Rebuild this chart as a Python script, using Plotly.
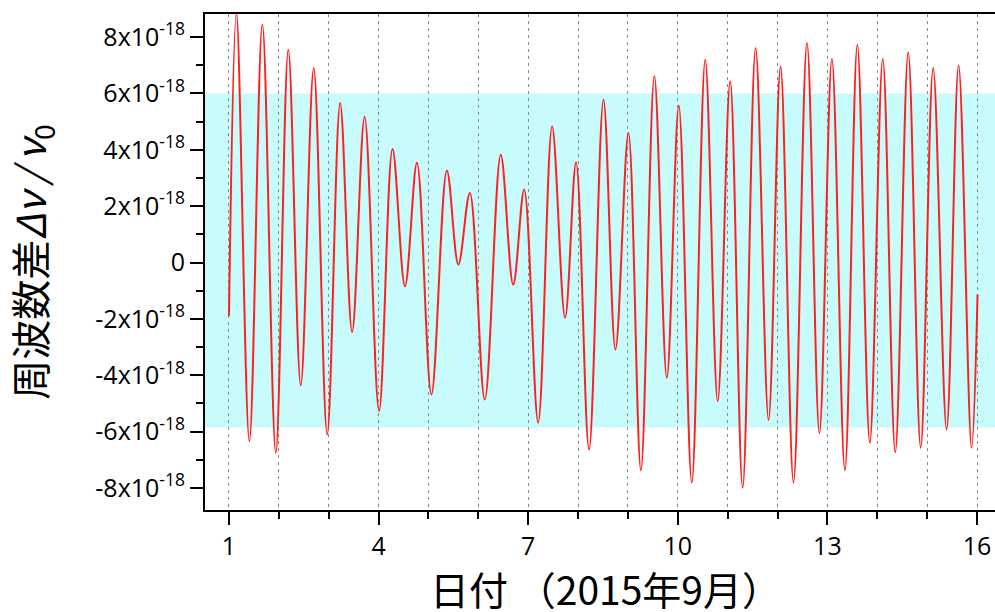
import plotly.graph_objects as go

# Extrema of the frequency ratio difference (units of 1e-18)
day = [1.00, 1.15, 1.41, 1.67, 1.94, 2.19, 2.44, 2.70, 2.97, 3.23, 3.47, 3.72, 4.01,
       4.28, 4.53, 4.77, 5.06, 5.37, 5.60, 5.83, 6.13, 6.45, 6.70, 6.92, 7.20, 7.48,
       7.74, 7.96, 8.22, 8.51, 8.75, 9.01, 9.26, 9.53, 9.78, 10.02, 10.28, 10.55,
       10.80, 11.05, 11.30, 11.56, 11.82, 12.06, 12.32, 12.59, 12.84, 13.09, 13.35,
       13.60, 13.85, 14.11, 14.36, 14.62, 14.87, 15.12, 15.39, 15.63, 15.89, 16.01]
dnu = [-1.9, 8.85, -6.34, 8.44, -6.75, 7.55, -4.36, 6.90, -6.10, 5.66, -2.47, 5.17, -5.27,
       4.03, -0.84, 3.54, -4.68, 3.27, -0.07, 2.47, -4.86, 3.83, -0.78, 2.59, -5.68, 4.83,
       -1.96, 3.56, -6.63, 5.78, -3.09, 4.60, -7.37, 6.61, -4.09, 5.57, -7.81, 7.20,
       -4.92, 6.43, -7.99, 7.61, -5.59, 6.96, -7.81, 7.79, -6.06, 7.22, -7.37,
       7.73, -6.39, 7.22, -6.73, 7.46, -6.57, 6.90, -5.92, 6.99, -6.57, -1.13]

band_low, band_high = -5.85, 6.0

x_tickvals = [1, 4, 7, 10, 13, 16]
x_ticktext = ["1", "4", "7", "10", "13", "16"]
y_tickvals = [-8, -6, -4, -2, 0, 2, 4, 6, 8]
y_ticktext = ["-8x10<sup>-18</sup>", "-6x10<sup>-18</sup>", "-4x10<sup>-18</sup>",
              "-2x10<sup>-18</sup>", "0", "2x10<sup>-18</sup>", "4x10<sup>-18</sup>",
              "6x10<sup>-18</sup>", "8x10<sup>-18</sup>"]
x_title = "日付 （2015年9月）"
y_title = "周波数差<i>Δν\u2009/\u2009ν</i><sub>0</sub>"

fig = go.Figure()
fig.add_trace(go.Scatter(x=day, y=dnu, mode="lines",
                         line=dict(color="#ff1f1f", width=2, shape="spline", smoothing=1.0),
                         showlegend=False, hoverinfo="skip"))

fig.add_shape(type="rect", xref="paper", yref="y", x0=0, x1=1, y0=band_low, y1=band_high,
              fillcolor="#c8fcfc", line=dict(width=0), layer="below")

grid_style = dict(gridcolor="#8a8a8a", gridwidth=1, griddash="3px,4px")

fig.update_xaxes(range=[0.52, 16.36], tickmode="array", tickvals=x_tickvals, ticktext=x_ticktext,
                 showgrid=True, **grid_style,
                 ticks="outside", ticklen=13, tickwidth=2, tickcolor="black",
                 showline=True, linecolor="black", linewidth=2, mirror=True,
                 zeroline=False,
                 minor=dict(dtick=1, tick0=0, ticks="outside", ticklen=7, tickwidth=2,
                            tickcolor="black", showgrid=True, **grid_style),
                 tickfont=dict(family="Open Sans, Liberation Sans", size=25, color="black"))

fig.add_annotation(text=x_title, xref="paper", yref="paper", x=0.5, y=0,
                   xanchor="center", yanchor="middle", xshift=5, yshift=-78,
                   showarrow=False,
                   font=dict(family="Noto Sans CJK JP", size=39, color="black"))

fig.update_yaxes(range=[-8.78, 8.82], tickmode="array", tickvals=y_tickvals, ticktext=y_ticktext,
                 showgrid=False, zeroline=False,
                 ticks="outside", ticklen=13, tickwidth=2, tickcolor="black",
                 showline=True, linecolor="black", linewidth=2, mirror=False,
                 minor=dict(dtick=1, tick0=0, ticks="outside", ticklen=7, tickwidth=2,
                            tickcolor="black"),
                 tickfont=dict(family="Open Sans, Liberation Sans", size=25, color="black"),
                 title=dict(text=y_title, standoff=36,
                            font=dict(family="Noto Sans CJK JP", size=40, color="black")))

fig.update_layout(width=995, height=612, autosize=False,
                  margin=dict(l=205, r=0, t=14, b=102, autoexpand=False),
                  plot_bgcolor="white", paper_bgcolor="white")

fig.write_html("out.html", config={"displayModeBar": False},
               post_script="document.body.style.margin='0';document.body.style.padding='0';")
